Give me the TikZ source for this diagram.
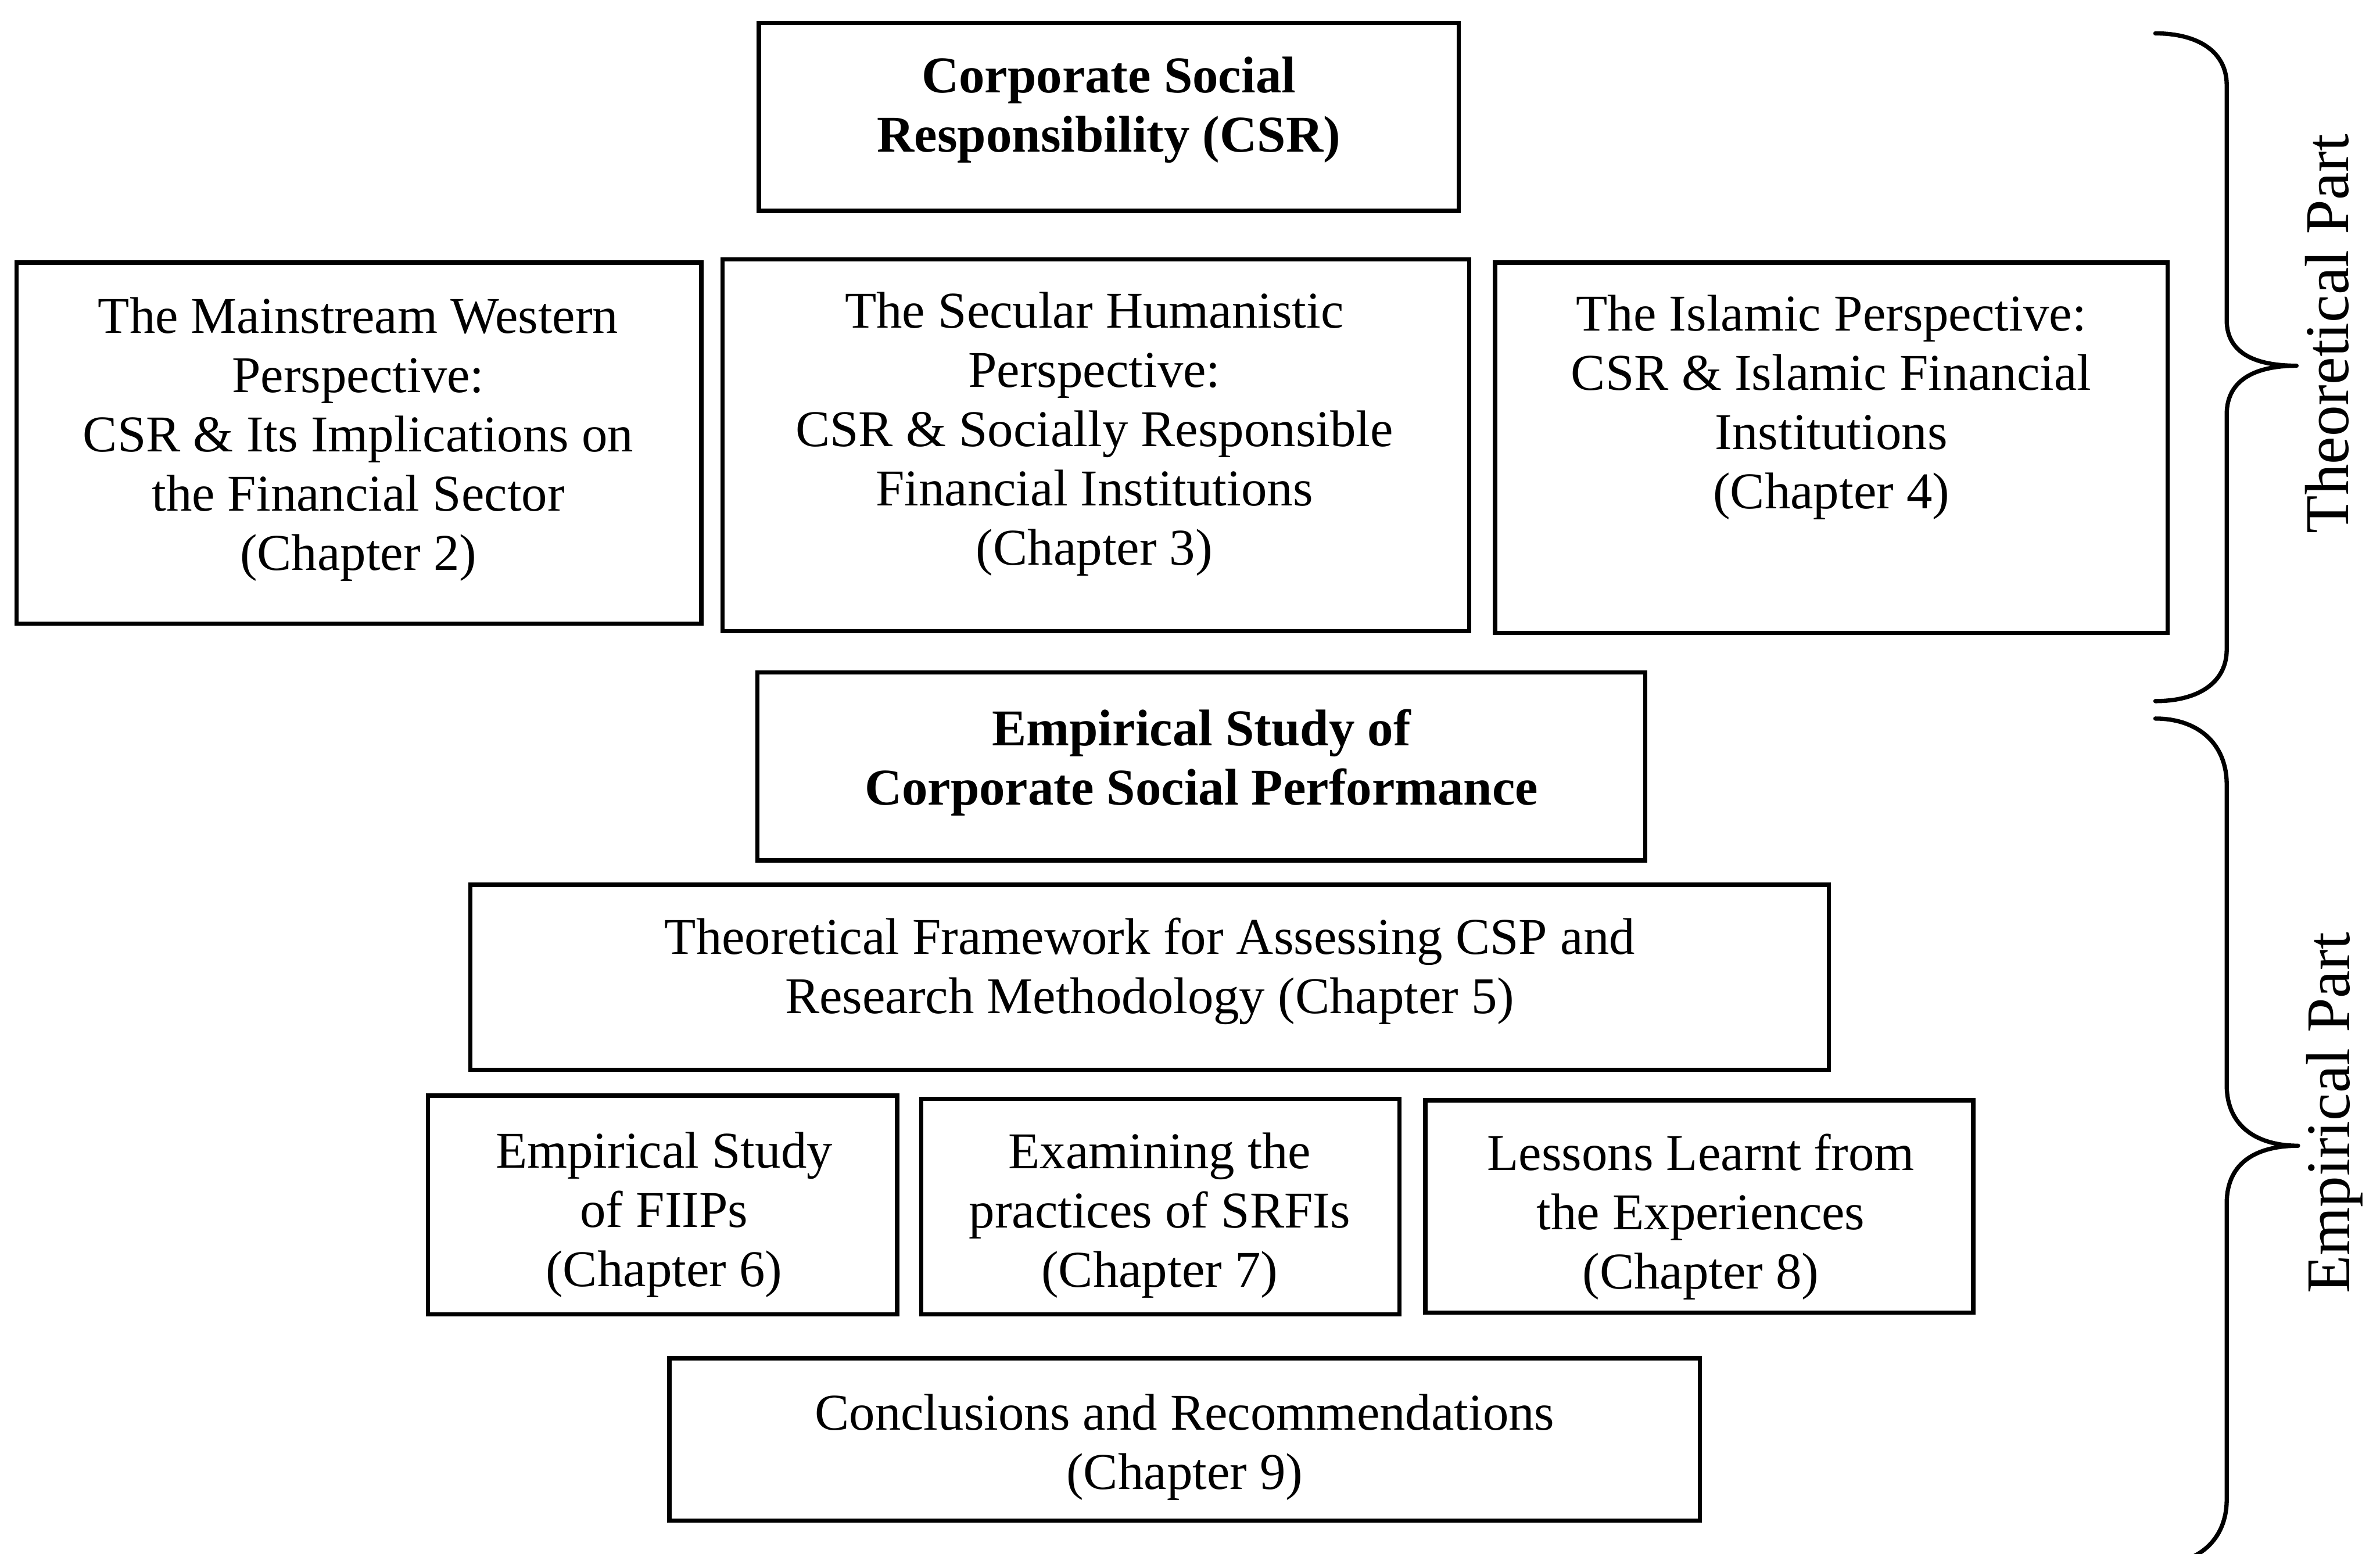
\documentclass[tikz,border=0pt]{standalone}
\usepackage{fontspec}
\setmainfont{Liberation Serif}
\begin{document}
\begin{tikzpicture}[x=1pt,y=-1pt,
  framebox/.style={draw, line width=2.8pt, rectangle, inner sep=0pt},
  txt/.style={align=center, inner sep=0pt, font=\fontsize{34}{39}\selectfont},
  btxt/.style={align=center, inner sep=0pt, font=\fontsize{34}{39}\selectfont\bfseries},
  parttxt/.style={rotate=90, anchor=base, inner sep=0pt, font=\fontsize{41}{46}\selectfont},
  bracepath/.style={line width=2.8pt, line join=round, line cap=round}]
\useasboundingbox (0,0) rectangle (1568,1024);
% boxes
\node[framebox, minimum width=461pt, minimum height=124pt] (csr) at (730.5,77) {};
\node[btxt] (csrt) at (730.5,72.5) {Corporate Social\\Responsibility (CSR)};
\node[framebox, minimum width=451pt, minimum height=238pt] (west) at (236.5,292) {};
\node[txt] (westt) at (236,289.5) {The Mainstream Western\\Perspective:\\CSR \& Its Implications on\\the Financial Sector\\(Chapter 2)};
\node[framebox, minimum width=492pt, minimum height=245pt] (sec) at (722,293.5) {};
\node[txt] (sect) at (721,286) {The Secular Humanistic\\Perspective:\\CSR \& Socially Responsible\\Financial Institutions\\(Chapter 3)};
\node[framebox, minimum width=443pt, minimum height=244pt] (isl) at (1206.5,295) {};
\node[txt] (islt) at (1206.5,268.5) {The Islamic Perspective:\\CSR \& Islamic Financial\\Institutions\\(Chapter 4)};
\node[framebox, minimum width=585pt, minimum height=124pt] (emp) at (791.5,505) {};
\node[btxt] (empt) at (791.5,502.5) {Empirical Study of\\Corporate Social Performance};
\node[framebox, minimum width=895pt, minimum height=122pt] (frm) at (757.5,644) {};
\node[txt] (frmt) at (757.5,640) {Theoretical Framework for Assessing CSP and\\Research Methodology (Chapter 5)};
\node[framebox, minimum width=309pt, minimum height=144pt] (fiip) at (436.5,794) {};
\node[txt] (fiipt) at (437.5,800.5) {Empirical Study\\of FIIPs\\(Chapter 6)};
\node[framebox, minimum width=315pt, minimum height=142pt] (srfi) at (764.5,795) {};
\node[txt] (srfit) at (764,801) {Examining the\\practices of SRFIs\\(Chapter 7)};
\node[framebox, minimum width=361pt, minimum height=140pt] (less) at (1119.5,795) {};
\node[txt] (lesst) at (1120.5,802) {Lessons Learnt from\\the Experiences\\(Chapter 8)};
\node[framebox, minimum width=679pt, minimum height=107pt] (conc) at (780.5,948.5) {};
\node[txt] (conct) at (780.5,953.5) {Conclusions and Recommendations\\(Chapter 9)};
% braces
\draw[bracepath] (1420,22) .. controls (1448,22) and (1467,34) .. (1467,56)
  -- (1467,211) .. controls (1467,234) and (1488,241) .. (1513,241)
  .. controls (1488,241) and (1467,249) .. (1467,273)
  -- (1467,428) .. controls (1467,450) and (1448,462) .. (1420,462);
\draw[bracepath] (1420,473.5) .. controls (1448,473.5) and (1467,490) .. (1467,517)
  -- (1467,715) .. controls (1467,743) and (1488,755) .. (1514,755)
  .. controls (1488,755) and (1467,765) .. (1467,793)
  -- (1467,988) .. controls (1467,1015) and (1448,1031) .. (1420,1031);
% part labels
\node[parttxt] (theo) at (1547,220) {Theoretical Part};
\node[parttxt] (empl) at (1548,733.5) {Empirical Part};
\end{tikzpicture}
\end{document}
